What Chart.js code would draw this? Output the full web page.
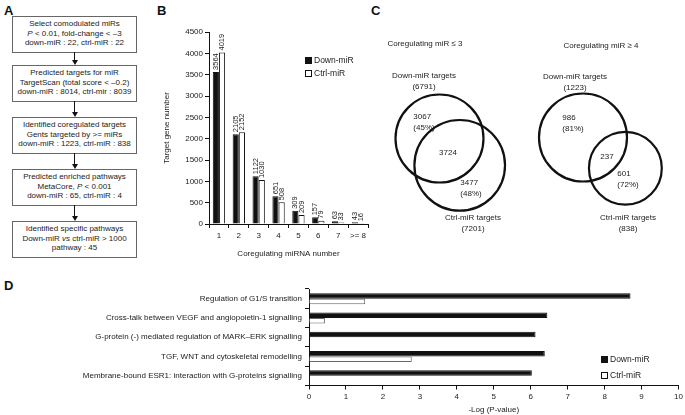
<!DOCTYPE html>
<html>
<head>
<meta charset="utf-8">
<script src="https://cdn.jsdelivr.net/npm/chart.js@4.4.1/dist/chart.umd.min.js"></script>
<style>
  body { margin: 0; background: #fff; font-family: "Liberation Sans", Arial, sans-serif; color: #222; }
  #page { position: relative; width: 685px; height: 415px; overflow: hidden; }
  .abs { position: absolute; white-space: nowrap; }
  .center { transform: translate(-50%, -50%); }
  .panel-label { position: absolute; font-weight: bold; font-size: 13px; color: #111; }
  .flow-box { position: absolute; left: 12px; width: 123px; height: 33px; border: 1px solid #666;
              text-align: center; font-size: 8px; line-height: 9.5px; padding-top: 2px; box-sizing: content-box; }
  .arrow-line { position: absolute; left: 74px; width: 1.4px; background: #111; }
  .arrow-head { position: absolute; left: 71.7px; width: 0; height: 0; border-left: 3px solid transparent;
                border-right: 3px solid transparent; border-top: 5px solid #111; }
  .txt { font-size: 8px; }
  .legend-row { position: absolute; font-size: 8.5px; display: flex; align-items: center; }
  .legend-sq { width: 5px; height: 5px; border: 1px solid #111; margin-right: 2px; }
  canvas { position: absolute; }
</style>
</head>
<body>
<div id="page">
  <div class="panel-label" style="left:4px;top:3px;">A</div>
  <div class="panel-label" style="left:157px;top:3px;">B</div>
  <div class="panel-label" style="left:371px;top:3px;">C</div>
  <div class="panel-label" style="left:4px;top:278px;">D</div>

  <div id="flow"></div>

  <canvas id="bar-chart" width="230" height="250" style="left:150px;top:20px;"></canvas>
  <div id="bar-legend"></div>

  <canvas id="venn-chart" width="315" height="250" style="left:370px;top:0px;"></canvas>
  <div id="venn-text"></div>

  <canvas id="path-chart" width="685" height="135" style="left:0px;top:280px;"></canvas>
  <div id="path-legend"></div>
</div>

<script>
// ---- data ----
const seriesNames = ["Down-miR", "Ctrl-miR"];

const flowSteps = [
  ["Select comodulated miRs", "<i>P</i> &lt; 0.01, fold-change &lt; \u20133", "down-miR : 22, ctrl-miR : 22"],
  ["Predicted targets for miR", "TargetScan (total score &lt; \u20130.2)", "down-miR : 8014, ctrl-mir : 8039"],
  ["Identified coregulated targets", "Gents targeted by &gt;= miRs", "down-miR : 1223, ctrl-miR : 838"],
  ["Predicted enriched pathways", "MetaCore, <i>P</i> &lt; 0.001", "down-miR : 65, ctrl-miR : 4"],
  ["Identified specific pathways", "Down-miR <i>vs</i> ctrl-miR &gt; 1000", "pathway : 45"],
];

const coregCategories = ["1", "2", "3", "4", "5", "6", "7", ">= 8"];
const downCounts = [3564, 2105, 1122, 651, 309, 157, 63, 43];
const ctrlCounts = [4019, 2152, 1030, 508, 209, 79, 33, 16];
const countAxisMax = 4500;
const countAxisStep = 500;

const vennTitles = ["Coregulating miR \u2264 3", "Coregulating miR \u2265 4"];
const vennDownTotals = [6791, 1223];
const vennCtrlTotals = [7201, 838];
const vennShared = [3724, 237];
const vennDownOnly = [3067, 986];
const vennCtrlOnly = [3477, 601];
const vennDownPct = ["45%", "81%"];
const vennCtrlPct = ["48%", "72%"];

const pathwayNames = [
  "Regulation of G1/S transition",
  "Cross-talk between VEGF and angiopoietin-1 signalling",
  "G-protein (-) mediated regulation of MARK\u2013ERK signalling",
  "TGF, WNT and cytoskeletal remodelling",
  "Membrane-bound ESR1: interaction with G-proteins signalling",
];
const pathwayDown = [8.7, 6.45, 6.13, 6.38, 6.03];
const pathwayCtrl = [1.52, 0.43, null, 2.78, null];
const logAxisMax = 10;

// ---- panel A: flowchart ----
const flowTops = [16, 65, 117, 169, 221];
const flow = document.getElementById("flow");
flowSteps.forEach((lines, i) => {
  const box = document.createElement("div");
  box.className = "flow-box";
  box.style.top = flowTops[i] + "px";
  box.innerHTML = lines.join("<br>");
  flow.appendChild(box);
  if (i < flowSteps.length - 1) {
    const start = flowTops[i] + 36;
    const end = flowTops[i + 1];
    const line = document.createElement("div");
    line.className = "arrow-line";
    line.style.top = start + "px";
    line.style.height = (end - start - 5) + "px";
    flow.appendChild(line);
    const head = document.createElement("div");
    head.className = "arrow-head";
    head.style.top = (end - 5) + "px";
    flow.appendChild(head);
  }
});

// ---- shared helpers ----
const FONT = "'Liberation Sans', Arial, sans-serif";
const INK = "#222";

function addLegend(containerId, left, tops, fills) {
  const box = document.getElementById(containerId);
  seriesNames.forEach((name, i) => {
    const row = document.createElement("div");
    row.className = "legend-row";
    row.style.left = left + "px";
    row.style.top = tops[i] + "px";
    row.innerHTML = `<span class="legend-sq" style="background:${fills[i]}"></span>${name}`;
    box.appendChild(row);
  });
}

const barValueLabels = {
  id: "barValueLabels",
  afterDatasetsDraw(chart) {
    const ctx = chart.ctx;
    ctx.save();
    ctx.font = `7.5px ${FONT}`;
    ctx.fillStyle = INK;
    ctx.textAlign = "left";
    ctx.textBaseline = "middle";
    chart.data.datasets.forEach((ds, i) => {
      chart.getDatasetMeta(i).data.forEach((bar, j) => {
        ctx.save();
        ctx.translate(bar.x, bar.y - 2);
        ctx.rotate(-Math.PI / 2);
        ctx.fillText(String(ds.data[j]), 0, 0);
        ctx.restore();
      });
    });
    ctx.restore();
  },
};

// ---- panel B: coregulating miRNA number ----
new Chart(document.getElementById("bar-chart"), {
  type: "bar",
  data: {
    labels: coregCategories,
    datasets: [
      { label: seriesNames[0], data: downCounts, backgroundColor: "#111", borderColor: "#111", borderWidth: 1 },
      { label: seriesNames[1], data: ctrlCounts, backgroundColor: "#fff", borderColor: "#111", borderWidth: 1 },
    ],
  },
  options: {
    responsive: false,
    animation: false,
    events: [],
    layout: { padding: { top: 12, right: 12, left: 0, bottom: 0 } },
    datasets: { bar: { categoryPercentage: 0.62, barPercentage: 1 } },
    plugins: { legend: { display: false }, tooltip: { enabled: false } },
    scales: {
      x: {
        afterFit: (scale) => { scale.height = 46; },
        border: { color: "#111", width: 1 },
        grid: { drawOnChartArea: false, tickLength: 4, color: "#111" },
        ticks: { color: INK, font: { size: 8, family: FONT }, padding: 3,
                 maxRotation: 0, minRotation: 0, autoSkip: false },
        title: { display: true, text: "Coregulating miRNA number", color: INK,
                 font: { size: 8, family: FONT }, padding: { top: 0, bottom: 11 } },
      },
      y: {
        min: 0,
        max: countAxisMax,
        afterFit: (scale) => { scale.width = 59; },
        border: { color: "#111", width: 1 },
        grid: { drawOnChartArea: false, tickLength: 4, color: "#111" },
        ticks: { stepSize: countAxisStep, color: INK, font: { size: 8, family: FONT }, padding: 2,
                 callback: (v) => String(v) },
        title: { display: true, text: "Target gene number", color: INK,
                 font: { size: 8, family: FONT }, padding: { top: 12, bottom: 0 } },
      },
    },
  },
  plugins: [barValueLabels],
});
addLegend("bar-legend", 305, [55, 68], ["#111", "#fff"]);

// ---- panel C: area-proportional Venn diagrams ----
function lensArea(r1, r2, d) {
  if (d >= r1 + r2) return 0;
  if (d <= Math.abs(r1 - r2)) return Math.PI * Math.min(r1, r2) ** 2;
  const a1 = Math.acos((d * d + r1 * r1 - r2 * r2) / (2 * d * r1));
  const a2 = Math.acos((d * d + r2 * r2 - r1 * r1) / (2 * d * r2));
  return r1 * r1 * (a1 - Math.sin(2 * a1) / 2) + r2 * r2 * (a2 - Math.sin(2 * a2) / 2);
}

function centreDistance(r1, r2, target) {
  let lo = Math.abs(r1 - r2), hi = r1 + r2;
  for (let k = 0; k < 60; k++) {
    const mid = (lo + hi) / 2;
    if (lensArea(r1, r2, mid) > target) lo = mid; else hi = mid;
  }
  return (lo + hi) / 2;
}

// layout of each diagram inside the Venn canvas: first circle centre, its radius, direction to second circle
const vennAnchors = [{ x: 69.5, y: 138.5 }, { x: 213, y: 137.5 }];
const vennRadius = [44, 44];
const vennAngle = [53, 36];

const vennPoints = vennDownTotals.map((downTotal, i) => {
  const r1 = vennRadius[i];
  const r2 = r1 * Math.sqrt(vennCtrlTotals[i] / downTotal);
  const sharedArea = (vennShared[i] / downTotal) * Math.PI * r1 * r1;
  const d = centreDistance(r1, r2, sharedArea);
  const a = vennAngle[i] * Math.PI / 180;
  const c1 = { x: vennAnchors[i].x, y: vennAnchors[i].y, r: r1 };
  const c2 = { x: c1.x + d * Math.cos(a), y: c1.y + d * Math.sin(a), r: r2 };
  return [c1, c2];
}).flat();

new Chart(document.getElementById("venn-chart"), {
  type: "bubble",
  data: {
    datasets: [{
      data: vennPoints,
      backgroundColor: "rgba(0,0,0,0)",
      borderColor: "#111",
      borderWidth: 2.2,
    }],
  },
  options: {
    responsive: false,
    animation: false,
    events: [],
    clip: false,
    layout: { padding: 0, autoPadding: false },
    plugins: { legend: { display: false }, tooltip: { enabled: false } },
    scales: {
      x: { type: "linear", min: 0, max: 315, display: false },
      y: { type: "linear", min: 0, max: 250, reverse: true, display: false },
    },
  },
});

const vennTextSpots = [
  { title: [425, 43], down: [424, 76], downOnly: [424, 117], shared: [448, 152], ctrlOnly: [471, 183], ctrl: [473, 218] },
  { title: [601, 45], down: [575, 77], downOnly: [573, 118], shared: [607, 156], ctrlOnly: [628, 174], ctrl: [628, 218] },
];
const vennText = document.getElementById("venn-text");
function placeText(html, xy) {
  const el = document.createElement("div");
  el.className = "abs center txt";
  el.style.left = xy[0] + "px";
  el.style.top = xy[1] + "px";
  el.innerHTML = html;
  vennText.appendChild(el);
}
vennTitles.forEach((title, i) => {
  const s = vennTextSpots[i];
  placeText(title, s.title);
  placeText(`<div style="text-align:center;line-height:10.5px">${seriesNames[0]} targets<br>(${vennDownTotals[i]})</div>`, [s.down[0], s.down[1] + 5]);
  placeText(`<div style="text-align:left;line-height:11px">${vennDownOnly[i]}<br>(${vennDownPct[i]})</div>`, [s.downOnly[0], s.downOnly[1] + 5]);
  placeText(String(vennShared[i]), s.shared);
  placeText(`<div style="text-align:left;line-height:10.5px">${vennCtrlOnly[i]}<br>(${vennCtrlPct[i]})</div>`, [s.ctrlOnly[0], s.ctrlOnly[1] + 5]);
  placeText(`<div style="text-align:center;line-height:11px">${seriesNames[1]} targets<br>(${vennCtrlTotals[i]})</div>`, [s.ctrl[0], s.ctrl[1] + 5]);
});

// ---- panel D: enriched pathways ----
new Chart(document.getElementById("path-chart"), {
  type: "bar",
  data: {
    labels: pathwayNames,
    datasets: [
      { label: seriesNames[0], data: pathwayDown, backgroundColor: "#111", borderColor: "#111", borderWidth: 1 },
      { label: seriesNames[1], data: pathwayCtrl, backgroundColor: "#fff", borderColor: "#666", borderWidth: 1 },
    ],
  },
  options: {
    indexAxis: "y",
    responsive: false,
    animation: false,
    events: [],
    layout: { padding: { top: 9, right: 5, left: 0, bottom: 0 } },
    datasets: { bar: { categoryPercentage: 0.57, barPercentage: 1 } },
    plugins: { legend: { display: false }, tooltip: { enabled: false } },
    scales: {
      x: {
        min: 0,
        max: logAxisMax,
        afterFit: (scale) => { scale.height = 29.5; },
        border: { color: "#111", width: 1 },
        grid: { drawOnChartArea: false, tickLength: 4, color: "#111" },
        ticks: { stepSize: 1, color: INK, font: { size: 8, family: FONT }, padding: 2 },
        title: { display: true, text: "-Log (P-value)", color: INK,
                 font: { size: 8, family: FONT }, padding: { top: 0, bottom: 0 } },
      },
      y: {
        afterFit: (scale) => { scale.width = 309; },
        border: { color: "#111", width: 1 },
        grid: { drawOnChartArea: false, tickLength: 4, color: "#111" },
        ticks: { color: INK, font: { size: 8, family: FONT }, padding: 3 },
      },
    },
  },
});
addLegend("path-legend", 601, [354, 370], ["#111", "#fff"]);
</script>
</body>
</html>
